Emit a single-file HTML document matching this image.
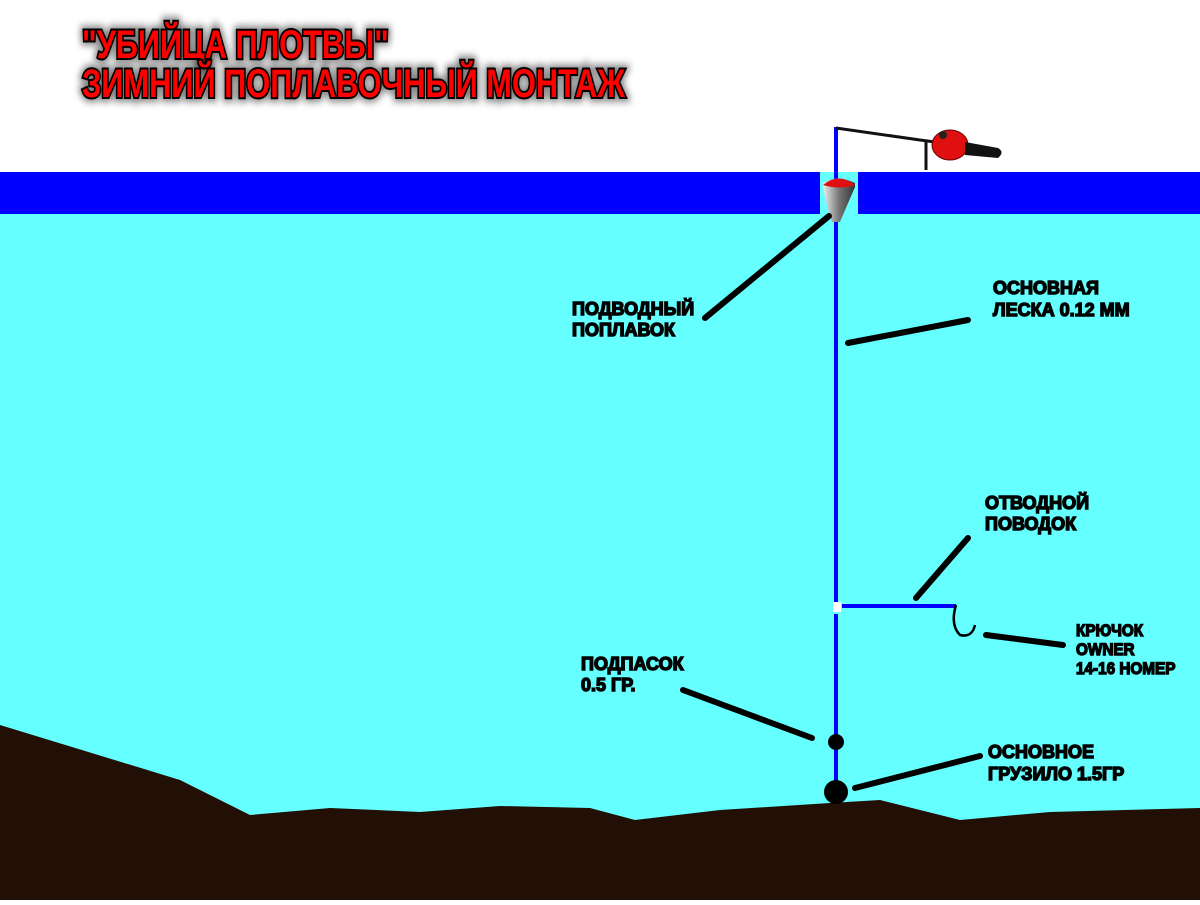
<!DOCTYPE html>
<html><head><meta charset="utf-8"><style>
body{margin:0;width:1200px;height:900px;overflow:hidden;background:#fff}
.t{font-family:"Liberation Sans","DejaVu Sans",sans-serif;font-weight:bold}
</style></head><body>
<svg width="1200" height="900" xmlns="http://www.w3.org/2000/svg">
<defs><filter id="sh" x="-10%" y="-30%" width="120%" height="160%"><feGaussianBlur stdDeviation="4"/></filter>
<linearGradient id="fl" x1="0" x2="1"><stop offset="0" stop-color="#eee"/><stop offset="0.5" stop-color="#777"/><stop offset="1" stop-color="#333"/></linearGradient></defs>
<rect x="0" y="214" width="1200" height="686" fill="#66ffff"/>
<rect x="820" y="172" width="38" height="42" fill="#66ffff"/>
<rect x="0" y="172" width="820" height="42" fill="#0000ff"/>
<rect x="858" y="172" width="342" height="42" fill="#0000ff"/>
<polygon points="0,725 180,780 250,815 330,808 420,812 500,806 590,808 635,820 720,810 830,803 880,800 960,820 1050,812 1200,808 1200,900 0,900" fill="#220f05"/>
<g class="t" font-size="40" transform="translate(82,0) scale(0.77,1)">
<text x="0" y="58" fill="#000" filter="url(#sh)" opacity="0.5" stroke="#000" stroke-width="9">"УБИЙЦА ПЛОТВЫ"</text>
<text x="0" y="97" fill="#000" filter="url(#sh)" opacity="0.5" stroke="#000" stroke-width="9">ЗИМНИЙ ПОПЛАВОЧНЫЙ МОНТАЖ</text>
<text x="0" y="58" fill="#ff0000" stroke="#000" stroke-width="4" paint-order="stroke">"УБИЙЦА ПЛОТВЫ"</text>
<text x="0" y="97" fill="#ff0000" stroke="#000" stroke-width="4" paint-order="stroke">ЗИМНИЙ ПОПЛАВОЧНЫЙ МОНТАЖ</text>
</g>
<line x1="836" y1="127" x2="836" y2="602" stroke="#0000ff" stroke-width="4"/>
<line x1="836" y1="614" x2="836" y2="790" stroke="#0000ff" stroke-width="4"/>
<rect x="833" y="602" width="8" height="10" fill="#fff"/>
<line x1="842" y1="606" x2="956" y2="606" stroke="#0000ff" stroke-width="4"/>
<path d="M956,605 Q950,625 960,635 Q972,638 975,625" fill="none" stroke="#000" stroke-width="2.5"/>
<path d="M836,128 L920,140 L935,142 M926,140 L926,170" stroke="#111" stroke-width="3" fill="none"/>
<ellipse cx="950" cy="145" rx="18" ry="15" fill="#e01010" stroke="#600" stroke-width="1"/>
<path d="M965,142 L998,148 Q1005,152 998,158 L965,155Z" fill="#111"/>
<circle cx="943" cy="135" r="4" fill="#222"/>
<path d="M823,183 Q836,174 855,183 L855,187 Q845,210 840,222 L832,222 Q826,205 823,187Z" fill="url(#fl)"/>
<path d="M823,185 Q839,172 855,185 Q839,190 823,185Z" fill="#e01010"/>
<circle cx="836" cy="742" r="8" fill="#000"/>
<circle cx="836" cy="792" r="12" fill="#000"/>
<g stroke="#000" stroke-width="6" stroke-linecap="round">
<line x1="829" y1="216" x2="705" y2="318"/>
<line x1="848" y1="343" x2="968" y2="320"/>
<line x1="916" y1="598" x2="968" y2="538"/>
<line x1="986" y1="635" x2="1063" y2="645"/>
<line x1="683" y1="690" x2="812" y2="738"/>
<line x1="855" y1="788" x2="980" y2="756"/>
</g>
<g class="t" font-size="18" fill="#000" stroke="#000" stroke-width="1.4">
<g transform="translate(572,0)"><text x="0" y="315">ПОДВОДНЫЙ</text><text x="0" y="336">ПОПЛАВОК</text></g>
<g transform="translate(993,0)"><text x="0" y="294">ОСНОВНАЯ</text><text x="0" y="316">ЛЕСКА 0.12 ММ</text></g>
<g transform="translate(985,0)"><text x="0" y="509">ОТВОДНОЙ</text><text x="0" y="530">ПОВОДОК</text></g>
<g transform="translate(1076,0) scale(0.9,1)" font-size="17"><text x="0" y="636">КРЮЧОК</text><text x="0" y="655">OWNER</text><text x="0" y="674">14-16 НОМЕР</text></g>
<g transform="translate(581,0)"><text x="0" y="670">ПОДПАСОК</text><text x="0" y="691">0.5 ГР.</text></g>
<g transform="translate(988,0)"><text x="0" y="758">ОСНОВНОЕ</text><text x="0" y="780">ГРУЗИЛО 1.5ГР</text></g>
</g>
</svg>
</body></html>
